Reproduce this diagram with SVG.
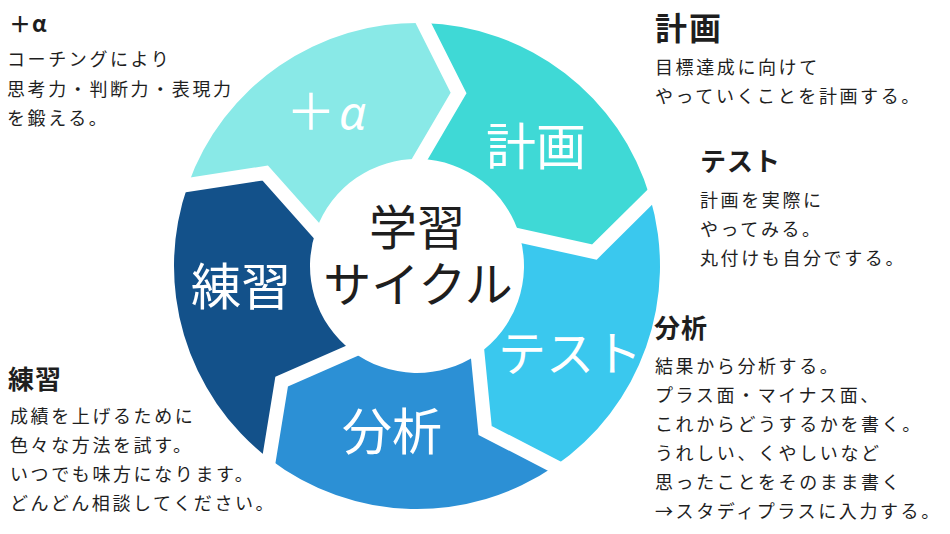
<svg xmlns="http://www.w3.org/2000/svg" width="950" height="534" viewBox="0 0 950 534">
<style>
.seg-label{font-family:"Noto Sans CJK JP",sans-serif;font-size:50px;fill:#ffffff;text-anchor:middle}
.center{font-family:"Liberation Sans","Noto Sans CJK JP",sans-serif;font-size:48px;fill:#1e1e1e;text-anchor:middle}
.head{font-family:"Noto Sans CJK JP",sans-serif;font-weight:700;fill:#1e1e1e;font-size:26px;letter-spacing:1px}
.body{font-family:"Noto Sans CJK JP",sans-serif;font-size:18px;fill:#1e1e1e;letter-spacing:2.6px}
.gap{fill:none;stroke:#ffffff;stroke-width:14;stroke-linejoin:miter;stroke-miterlimit:10}
</style>
<rect width="950" height="534" fill="#ffffff"/>

<g id="node-alpha">
<path fill="#89E9E7" d="M187.94,184.88 A243,243 0 0 1 423.36,23.08 L458.55,92.92 L419.80,159.04 A107,107 0 0 0 316.14,230.28 L265.23,172.99 Z"/>
<text class="seg-label" style="text-anchor:start" x="286" y="130">＋<tspan x="339" style="font-family:'Noto Sans','DejaVu Sans',sans-serif;font-size:48px;font-style:italic">α</tspan></text>
</g>
<g id="node-keikaku">
<path fill="#3FD9D6" d="M423.36,23.08 A243,243 0 0 1 649.99,196.98 L594.45,252.03 L519.59,235.61 A107,107 0 0 0 419.80,159.04 L458.55,92.92 Z"/>
<text class="seg-label" x="536" y="165">計画</text>
</g>
<g id="node-test">
<path fill="#3AC8EE" d="M649.99,196.98 A243,243 0 0 1 554.64,466.26 L485.12,430.45 L477.61,354.18 A107,107 0 0 0 519.59,235.61 L594.45,252.03 Z"/>
<text class="seg-label" style="font-size:48px" x="570" y="371">テスト</text>
</g>
<g id="node-bunseki">
<path fill="#2C90D5" d="M554.64,466.26 A243,243 0 0 1 269.07,458.78 L281.65,381.60 L351.86,350.89 A107,107 0 0 0 477.61,354.18 L485.12,430.45 Z"/>
<text class="seg-label" x="392" y="450">分析</text>
</g>
<g id="node-renshu">
<path fill="#13518A" d="M269.07,458.78 A243,243 0 0 1 187.94,184.88 L265.23,172.99 L316.14,230.28 A107,107 0 0 0 351.86,350.89 L281.65,381.60 Z"/>
<text class="seg-label" x="241" y="305">練習</text>
</g>

<g id="connectors">
<polyline class="gap" points="419.76,15.94 458.55,92.92 415.76,165.94"/>
<polyline class="gap" points="655.67,191.35 594.45,252.03 511.78,233.90"/>
<polyline class="gap" points="561.75,469.92 485.12,430.45 476.83,346.22"/>
<polyline class="gap" points="267.78,466.68 281.65,381.60 359.19,347.68"/>
<polyline class="gap" points="180.04,186.10 265.23,172.99 321.45,236.26"/>
</g>

<g id="node-center">
<text class="center" x="417" y="245">学習</text>
<text class="center" x="418" y="302">サイクル</text>
</g>

<g id="desc-alpha">
<text class="head" style="font-size:22px" x="9" y="32">＋α</text>
<text class="body" x="7" y="66">コーチングにより</text>
<text class="body" x="7" y="96">思考力・判断力・表現力</text>
<text class="body" x="7" y="125">を鍛える。</text>
</g>
<g id="desc-keikaku">
<text class="head" style="font-size:32px;letter-spacing:2px" x="655" y="40">計画</text>
<text class="body" x="655" y="74">目標達成に向けて</text>
<text class="body" x="655" y="103">やっていくことを計画する。</text>
</g>
<g id="desc-test">
<text class="head" x="700" y="171">テスト</text>
<text class="body" x="700" y="207">計画を実際に</text>
<text class="body" x="700" y="236">やってみる。</text>
<text class="body" x="700" y="265">丸付けも自分でする。</text>
</g>
<g id="desc-bunseki">
<text class="head" x="654" y="338">分析</text>
<text class="body" x="655" y="373">結果から分析する。</text>
<text class="body" x="655" y="402">プラス面・マイナス面、</text>
<text class="body" x="655" y="431">これからどうするかを書く。</text>
<text class="body" x="655" y="460">うれしい、くやしいなど</text>
<text class="body" x="655" y="489">思ったことをそのまま書く</text>
<text class="body" x="655" y="518">→スタディプラスに入力する。</text>
</g>
<g id="desc-renshu">
<text class="head" x="8" y="389">練習</text>
<text class="body" x="10" y="423">成績を上げるために</text>
<text class="body" x="10" y="452">色々な方法を試す。</text>
<text class="body" x="10" y="481">いつでも味方になります。</text>
<text class="body" x="10" y="510">どんどん相談してください。</text>
</g>
</svg>
